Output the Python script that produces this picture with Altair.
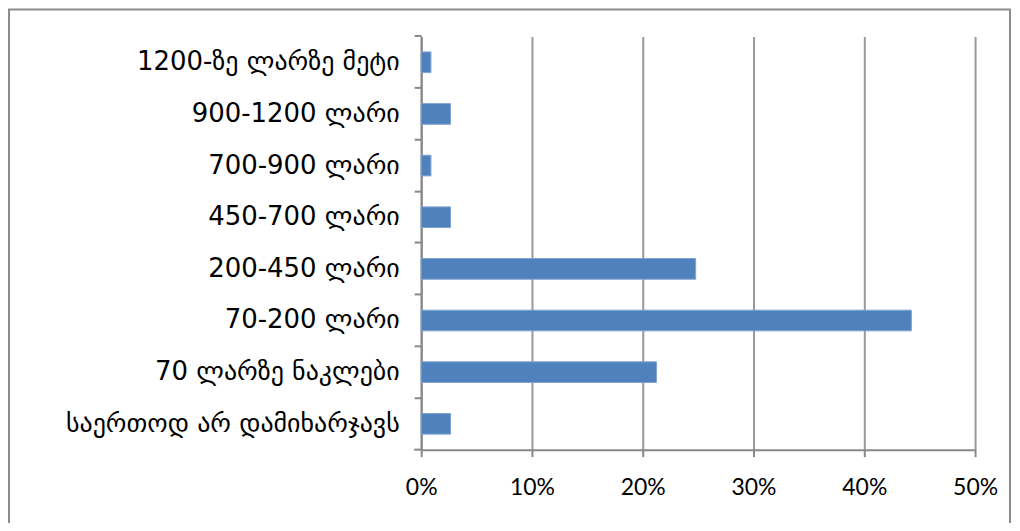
import altair as alt
import pandas as pd

categories = [
    "1200-ზე ლარზე მეტი",
    "900-1200 ლარი",
    "700-900 ლარი",
    "450-700 ლარი",
    "200-450 ლარი",
    "70-200 ლარი",
    "70 ლარზე ნაკლები",
    "საერთოდ არ დამიხარჯავს",
]
shares = [0.0088, 0.0265, 0.0088, 0.0265, 0.2478, 0.4425, 0.2124, 0.0265]
x_ticks = [0, 0.1, 0.2, 0.3, 0.4, 0.5]

df = pd.DataFrame({"category": categories, "share": shares})

PW, PH = 555, 414
PL, PT, PR, PB = 414, 28, 37, 73
P_IN, P_OUT = 0.6, 0.3

bars = alt.Chart(df).mark_bar(color="#4F81BD", stroke="#7FA3D1", strokeWidth=1).encode(
    y=alt.Y(
        "category:N",
        sort=categories,
        scale=alt.Scale(paddingInner=P_IN, paddingOuter=P_OUT),
        axis=alt.Axis(
            title=None,
            labelFont="DejaVu Sans",
            labelFontSize=26,
            labelColor="#000000",
            labelPadding=15,
            labelLimit=400,
            tickSize=7,
            tickColor="#888888",
            tickWidth=2,
            bandPosition=-(P_IN / 2) / (1 - P_IN),
            domainColor="#888888",
            domainWidth=2,
            grid=False,
        ),
    ),
    x=alt.X(
        "share:Q",
        scale=alt.Scale(domain=[0, 0.5], nice=False),
        axis=alt.Axis(
            title=None,
            values=x_ticks,
            format=".0%",
            labelFont="Lato",
            labelFontSize=23,
            labelColor="#000000",
            labelPadding=20,
            labelFlush=False,
            tickSize=7,
            tickColor="#888888",
            tickWidth=2,
            domainColor="#888888",
            domainWidth=2,
            grid=True,
            gridColor="#999999",
            gridWidth=2,
        ),
    ),
)

bottom_tick = alt.Chart(alt.Data(values=[{"t": 1}])).mark_rule(
    color="#888888", strokeWidth=2
).encode(x=alt.value(-7), x2=alt.value(0), y=alt.value(PH))

frame = alt.Chart(alt.Data(values=[{"f": 1}])).mark_rect(
    filled=False, stroke="#8c8c8c", strokeWidth=2
).encode(
    x=alt.value(-PL + 1),
    x2=alt.value(PW + PR - 2),
    y=alt.value(-PT + 1),
    y2=alt.value(PH + PB + 40),
)

chart = alt.layer(frame, bars, bottom_tick).properties(
    width=PW,
    height=PH,
    autosize=alt.AutoSizeParams(type="none"),
    padding={"left": PL, "top": PT, "right": PR, "bottom": PB},
    background="white",
).configure_view(stroke=None)

chart.save("out.html", embed_options={"renderer": "svg", "actions": False})
